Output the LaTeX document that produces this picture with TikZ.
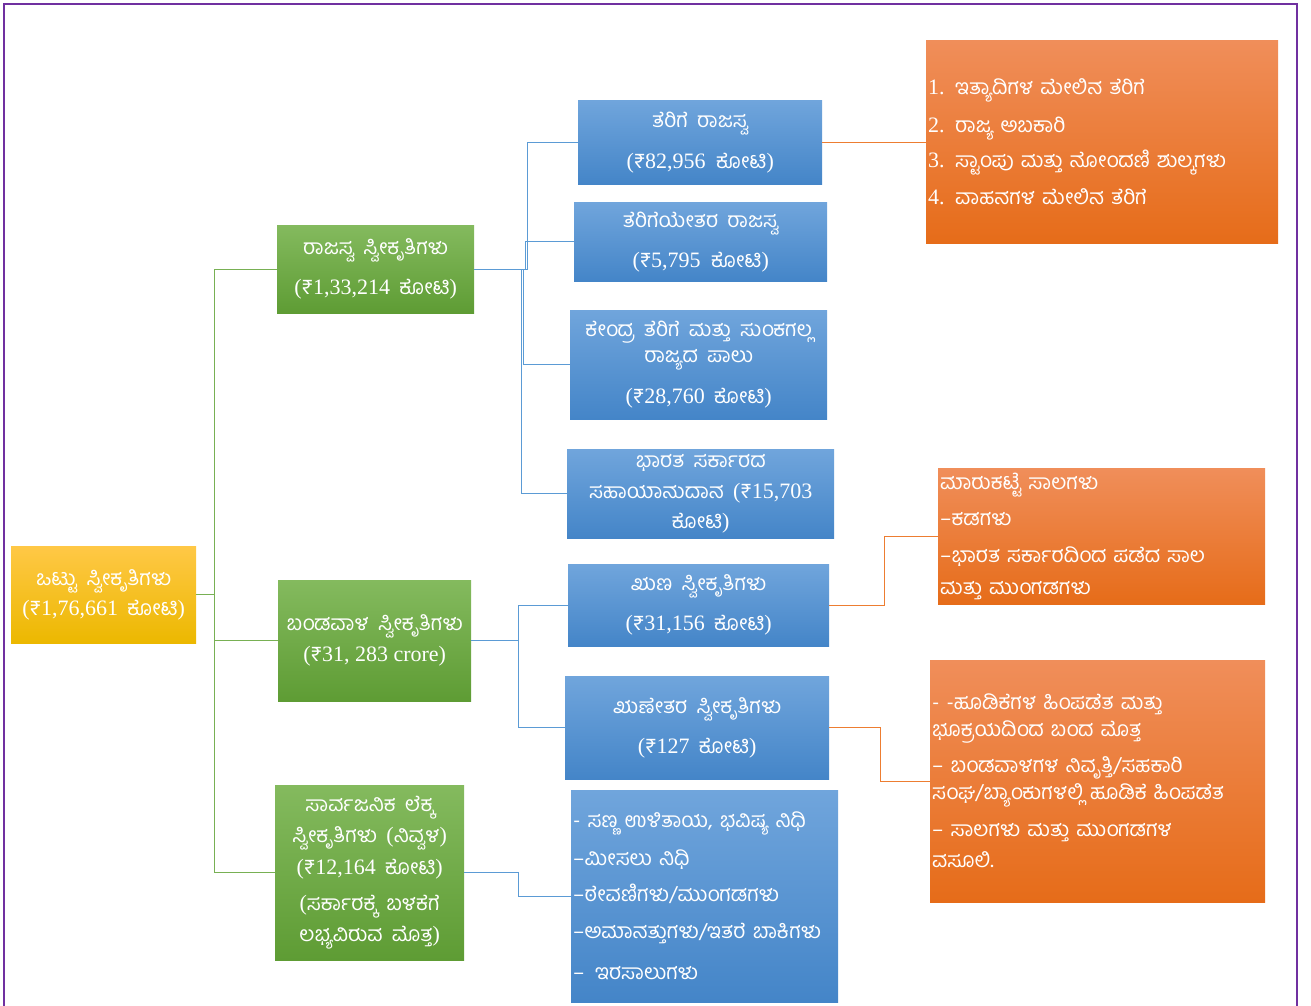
\documentclass[tikz,border=0pt]{standalone}
\usepackage{fontspec}
\setmainfont{Liberation Serif}
\newfontfamily\kn[Script=Kannada, WordSpace=1.8]{Hind Mysuru}
\newfontfamily\rupfont{Hind Mysuru}
\newfontfamily\serifnum{Liberation Serif}
\newcommand\nm[1]{{\serifnum\fontsize{22}{27}\selectfont #1}}
\newcommand\rup{{\rupfont\fontsize{21}{27}\selectfont ₹}}
\definecolor{bluetop}{RGB}{112,165,220}
\definecolor{bluebot}{RGB}{68,133,200}
\definecolor{greentop}{RGB}{132,186,94}
\definecolor{greenbot}{RGB}{94,156,52}
\definecolor{orangetop}{RGB}{240,142,90}
\definecolor{orangebot}{RGB}{230,108,25}
\definecolor{goldtop}{RGB}{255,200,70}
\definecolor{goldbot}{RGB}{236,184,0}
\definecolor{gline}{RGB}{120,176,84}
\definecolor{bline}{RGB}{91,155,213}
\definecolor{oline}{RGB}{237,125,49}
\definecolor{frame}{RGB}{112,48,160}
\tikzset{
  box/.style={draw=none, text=white, inner sep=2pt, anchor=north west, align=center,
    font=\kn\fontsize{21}{27}\selectfont},
  bluebox/.style={box, top color=bluetop, bottom color=bluebot},
  greenbox/.style={box, top color=greentop, bottom color=greenbot},
  orangebox/.style={box, top color=orangetop, bottom color=orangebot},
  goldbox/.style={box, top color=goldtop, bottom color=goldbot},
  listbox/.style={align=left},
  gconn/.style={draw=gline, line width=1.3pt},
  bconn/.style={draw=bline, line width=1.3pt},
  oconn/.style={draw=oline, line width=1.3pt},
}
\begin{document}
\begin{tikzpicture}[x=1pt,y=1pt]
\useasboundingbox (0,0) rectangle (1311,-1005);
\draw[frame, line width=2.5pt] (4,-1010) -- (4,-4) -- (1297,-4) -- (1297,-1010);

% level 0
\node[goldbox, minimum width=185pt, minimum height=97pt] (root) at (11,-546)
  {ಒಟ್ಟು ಸ್ವೀಕೃತಿಗಳು\\[3pt]\nm{(}\rup\nm{1,76,661} ಕೋಟಿ\nm{)}};

% level 1
\node[greenbox, minimum width=197pt, minimum height=88pt] (rev) at (277,-225)
  {ರಾಜಸ್ವ ಸ್ವೀಕೃತಿಗಳು\\[13pt]\nm{(}\rup\nm{1,33,214} ಕೋಟಿ\nm{)}};
\node[greenbox, minimum width=193pt, minimum height=121pt] (cap) at (278,-580)
  {ಬಂಡವಾಳ ಸ್ವೀಕೃತಿಗಳು\\[4pt]\nm{(}\rup\nm{31, 283 crore)}};
\node[greenbox, minimum width=189pt, minimum height=175pt] (pub) at (275,-785)
  {ಸಾರ್ವಜನಿಕ ಲೆಕ್ಕ\\[4pt]ಸ್ವೀಕೃತಿಗಳು \nm{(}ನಿವ್ವಳ\nm{)}\\[5pt]\nm{(}\rup\nm{12,164} ಕೋಟಿ\nm{)}\\[9pt]\nm{(}ಸರ್ಕಾರಕ್ಕೆ ಬಳಕೆಗೆ\\[4pt]ಲಭ್ಯವಿರುವ ಮೊತ್ತ\nm{)}};

% level 2
\node[bluebox, minimum width=244pt, minimum height=84pt] (tax) at (578,-100)
  {ತೆರಿಗೆ ರಾಜಸ್ವ\\[14pt]\nm{(}\rup\nm{82,956}\enspace ಕೋಟಿ\nm{)}};
\node[bluebox, minimum width=253pt, minimum height=79pt] (nontax) at (574,-202)
  {ತೆರಿಗೆಯೇತರ ರಾಜಸ್ವ\\[13pt]\nm{(}\rup\nm{5,795}\enspace ಕೋಟಿ\nm{)}};
\node[bluebox, minimum width=257pt, minimum height=109pt] (central) at (570,-310)
  {ಕೇಂದ್ರ ತೆರಿಗೆ ಮತ್ತು ಸುಂಕಗಲ್ಲ\\[-1pt]ರಾಜ್ಯದ ಪಾಲು\\[14pt]\nm{(}\rup\nm{28,760} ಕೋಟಿ\nm{)}};
\node[bluebox, minimum width=267pt, minimum height=89pt] (grants) at (567,-449)
  {ಭಾರತ ಸರ್ಕಾರದ\\[4pt]ಸಹಾಯಾನುದಾನ \nm{(}\rup\nm{15,703}\\[3pt]ಕೋಟಿ\nm{)}};
\node[bluebox, minimum width=261pt, minimum height=82pt] (debt) at (568,-564)
  {ಋಣ ಸ್ವೀಕೃತಿಗಳು\\[13pt]\nm{(}\rup\nm{31,156} ಕೋಟಿ\nm{)}};
\node[bluebox, minimum width=264pt, minimum height=103pt] (nondebt) at (565,-676)
  {ಋಣೇತರ ಸ್ವೀಕೃತಿಗಳು\\[13pt]\nm{(}\rup\nm{127} ಕೋಟಿ\nm{)}};
\node[bluebox, listbox, minimum width=267pt, minimum height=212pt, text width=263pt] (pubd) at (571,-790)
  {- ಸಣ್ಣ ಉಳಿತಾಯ, ಭವಿಷ್ಯ ನಿಧಿ\\[11pt]–ಮೀಸಲು ನಿಧಿ\\[9pt]–ಠೇವಣಿಗಳು/ಮುಂಗಡಗಳು\\[10pt]–ಅಮಾನತ್ತುಗಳು/ಇತರೆ ಬಾಕಿಗಳು\\[14pt]–\enspace ಇರಸಾಲುಗಳು};

% level 3
\node[orangebox, listbox, minimum width=352pt, minimum height=203pt, text width=348pt] (taxlist) at (926,-40)
  {\nm{1.} ಇತ್ಯಾದಿಗಳ ಮೇಲಿನ ತೆರಿಗೆ\\[11pt]\nm{2.} ರಾಜ್ಯ ಅಬಕಾರಿ\\[8pt]\nm{3.} ಸ್ಟಾಂಪು ಮತ್ತು ನೋಂದಣಿ ಶುಲ್ಕಗಳು\\[10pt]\nm{4.} ವಾಹನಗಳ ಮೇಲಿನ ತೆರಿಗೆ};
\node[orangebox, listbox, minimum width=327pt, minimum height=136pt, text width=323pt] (market) at (938,-468)
  {ಮಾರುಕಟ್ಟೆ ಸಾಲಗಳು\\[9pt]–ಕಡಗಳು\\[10pt]–ಭಾರತ ಸರ್ಕಾರದಿಂದ ಪಡೆದ ಸಾಲ\\[5pt]ಮತ್ತು ಮುಂಗಡಗಳು};
\node[orangebox, listbox, minimum width=335pt, minimum height=242pt, text width=331pt] (ndlist) at (930,-660)
  {- -ಹೂಡಿಕೆಗಳ ಹಿಂಪಡೆತ ಮತ್ತು\\[0pt]ಭೂಕ್ರಯದಿಂದ ಬಂದ ಮೊತ್ತ\\[9pt]– ಬಂಡವಾಳಗಳ ನಿವೃತ್ತಿ/ಸಹಕಾರಿ\\[0pt]ಸಂಘ/ಬ್ಯಾಂಕುಗಳಲ್ಲಿ ಹೂಡಿಕೆ ಹಿಂಪಡೆತ\\[10pt]– ಸಾಲಗಳು ಮತ್ತು ಮುಂಗಡಗಳ\\[4pt]ವಸೂಲಿ.};

% connectors
\draw[gconn] (root.east) -- ++(18,0) |- (rev.west);
\draw[gconn] (root.east) -- ++(18,0) |- (cap.west);
\draw[gconn] (root.east) -- ++(18,0) |- (pub.west);

\draw[bconn] (rev.east) -- ++(53,0) |- (tax.west);
\draw[bconn] (rev.east) -- ++(51,0) |- (nontax.west);
\draw[bconn] (rev.east) -- ++(49,0) |- (central.west);
\draw[bconn] (rev.east) -- ++(47,0) |- (grants.west);
\draw[bconn] (cap.east) -- ++(47,0) |- (debt.west);
\draw[bconn] (cap.east) -- ++(47,0) |- (nondebt.west);
\draw[bconn] (pub.east) -- ++(54,0) |- (pubd.west);

\draw[oconn] (tax.east) -- (tax.east -| taxlist.west);
\draw[oconn] (debt.east) -- ++(55,0) |- (market.west);
\draw[oconn] (nondebt.east) -- ++(51,0) |- (ndlist.west);
\end{tikzpicture}
\end{document}
